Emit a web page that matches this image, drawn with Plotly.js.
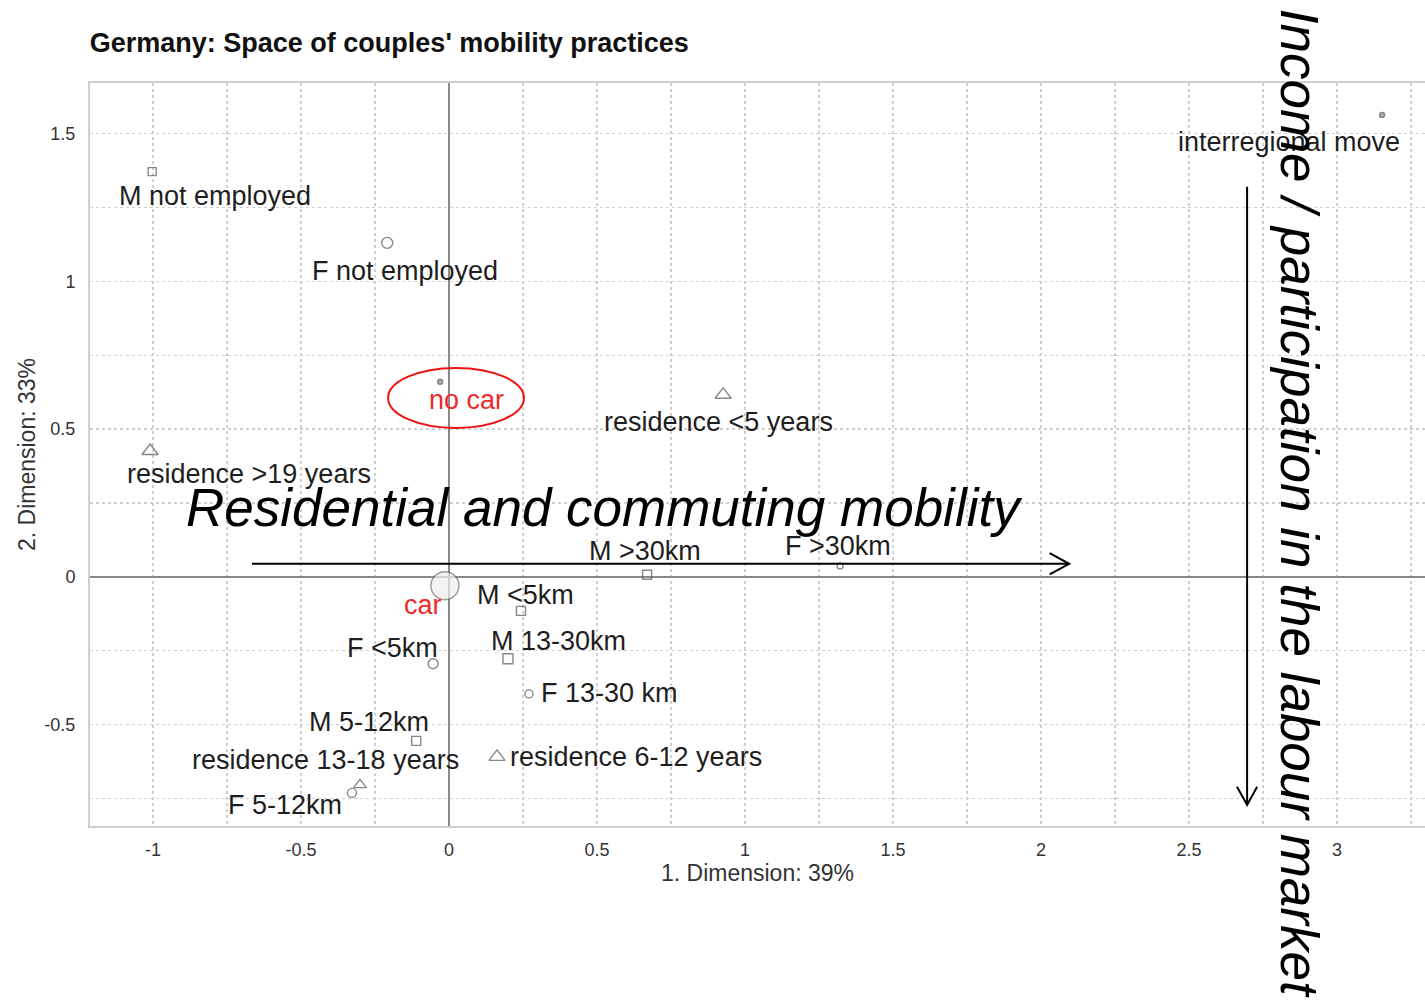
<!DOCTYPE html>
<html>
<head>
<meta charset="utf-8">
<script src="https://cdn.plot.ly/plotly-3.0.1.min.js"></script>
<style>
  html, body { margin: 0; padding: 0; background: #ffffff; }
  #chart { width: 1425px; height: 1004px; }
</style>
</head>
<body>
<div id="chart"></div>
<script>
// Category coordinates on the first two dimensions
const categories = [
  'interregional move', 'M not employed', 'F not employed', 'no car',
  'residence <5 years', 'residence >19 years', 'M >30km', 'F >30km', 'car',
  'M <5km', 'M 13-30km', 'F <5km', 'F 13-30 km', 'M 5-12km',
  'residence 6-12 years', 'residence 13-18 years', 'F 5-12km'
];
const dim1 = [3.152, -1.003, -0.209, -0.030, 0.926, -1.010, 0.669, 1.321, -0.014,
              0.243, 0.199, -0.054, 0.270, -0.111, 0.162, -0.301, -0.328];
const dim2 = [1.563, 1.371, 1.130, 0.660, 0.616, 0.426, 0.007, 0.037, -0.030,
              -0.115, -0.277, -0.294, -0.396, -0.555, -0.609, -0.704, -0.731];

// Axis ticks
const xTickVals = [-1, -0.5, 0, 0.5, 1, 1.5, 2, 2.5, 3];
const xTickText = ['-1', '-0.5', '0', '0.5', '1', '1.5', '2', '2.5', '3'];
const yTickVals = [-0.5, 0, 0.5, 1, 1.5];
const yTickText = ['-0.5', '0', '0.5', '1', '1.5'];

// Marker styling per category
const symbols = ['circle', 'square-open', 'circle-open', 'circle',
  'triangle-up-open', 'triangle-up-open', 'square-open', 'circle-open', 'circle',
  'square-open', 'square-open', 'circle-open', 'circle-open', 'square-open',
  'triangle-up-open', 'triangle-up-open', 'circle-open'];
const sizes = [5, 8, 11, 5, 14, 14, 9, 6, 28, 9, 10, 10, 8, 9, 14, 11, 9];
const fills = categories.map(c => c === 'car' ? '#eeeeee' : (c === 'no car' || c === 'interregional move') ? '#8a8a8a' : '#555555');
const outlines = categories.map(c => c === 'car' ? '#6f6f6f' : '#555555');

// Label placement relative to each marker (pixels, right / up)
const labelDx = [-93, 63, 18, 26, -5, 99, -2, -2, -22, 5, 51, -41, 81, -47, 139, -34, -67];
const labelDy = [-27, -24, -28, -18, -27, -23, 24, 20, -19, 16, 18, 16, 1, 19, 0, 25, -12];
const highlighted = ['no car', 'car'];

const labelFont = 'Liberation Sans, Arial, sans-serif';

const trace = {
  type: 'scatter',
  mode: 'markers',
  x: dim1,
  y: dim2,
  text: categories,
  hoverinfo: 'text',
  cliponaxis: false,
  marker: {
    symbol: symbols,
    size: sizes,
    color: fills,
    line: { color: outlines, width: 1.4 }
  }
};

const labelAnnotations = categories.map((c, i) => ({
  x: dim1[i], y: dim2[i], xref: 'x', yref: 'y',
  text: c, showarrow: false,
  xshift: labelDx[i], yshift: labelDy[i],
  xanchor: 'center', yanchor: 'middle',
  font: { family: labelFont, size: 27, color: highlighted.includes(c) ? '#ee2a2a' : '#1e1e1e' }
}));

// Interpretation of the two axes
const axisNotes = [
  {
    x: 0.524, y: 0.236, xref: 'x', yref: 'y', showarrow: false,
    text: '<i>Residential and commuting mobility</i>',
    xanchor: 'center', yanchor: 'middle',
    font: { family: labelFont, size: 53, color: '#000000' }
  },
  {
    x: 2.872, y: 0.250, xref: 'x', yref: 'y', showarrow: false,
    text: '<i>Income / participation in the labour market</i>',
    textangle: 90, xanchor: 'center', yanchor: 'middle',
    font: { family: labelFont, size: 53, color: '#000000' }
  }
];

// Arrow geometry in axis units
const hArrow = { x0: -0.666, x1: 2.095, y: 0.044, headDx: 0.066, headDy: 0.036 };
const vArrow = { x: 2.696, y0: 1.320, y1: -0.772, headDx: 0.034, headDy: 0.062 };

const shapes = [
  { type: 'line', xref: 'x', yref: 'y', x0: hArrow.x0, x1: hArrow.x1, y0: hArrow.y, y1: hArrow.y,
    line: { color: '#000000', width: 2 } },
  { type: 'path', xref: 'x', yref: 'y',
    path: `M ${hArrow.x1 - hArrow.headDx} ${hArrow.y + hArrow.headDy} L ${hArrow.x1} ${hArrow.y} L ${hArrow.x1 - hArrow.headDx} ${hArrow.y - hArrow.headDy}`,
    line: { color: '#000000', width: 2 } },
  { type: 'line', xref: 'x', yref: 'y', x0: vArrow.x, x1: vArrow.x, y0: vArrow.y0, y1: vArrow.y1,
    line: { color: '#000000', width: 2 } },
  { type: 'path', xref: 'x', yref: 'y',
    path: `M ${vArrow.x - vArrow.headDx} ${vArrow.y1 + vArrow.headDy} L ${vArrow.x} ${vArrow.y1} L ${vArrow.x + vArrow.headDx} ${vArrow.y1 + vArrow.headDy}`,
    line: { color: '#000000', width: 2 } },
  // highlight ring around "no car"
  { type: 'circle', xref: 'x', yref: 'y', x0: -0.206, x1: 0.253, y0: 0.504, y1: 0.707,
    line: { color: '#ee1111', width: 2 } }
];

const axisCommon = {
  showgrid: true,
  gridcolor: '#d0d0d0',
  griddash: 'dot',
  gridwidth: 1.2,
  zeroline: true,
  zerolinecolor: '#8a8a8a',
  zerolinewidth: 2,
  showline: true,
  linecolor: '#cfcfcf',
  linewidth: 2,
  mirror: true,
  ticks: '',
  tickmode: 'array',
  tickfont: { family: labelFont, size: 18, color: '#333333' },
  minor: { dtick: 0.25, showgrid: true, gridcolor: '#d0d0d0', griddash: 'dot', gridwidth: 1.2 }
};

const layout = {
  width: 1425,
  height: 1004,
  margin: { l: 90, r: 0, t: 83, b: 178 },
  paper_bgcolor: '#ffffff',
  plot_bgcolor: '#ffffff',
  showlegend: false,
  title: {
    text: "Germany: Space of couples' mobility practices",
    xref: 'container', yref: 'container',
    x: 0.063, xanchor: 'left', y: 0.958, yanchor: 'middle',
    font: { family: labelFont, size: 27, color: '#111111', weight: 'bold' }
  },
  xaxis: Object.assign({}, axisCommon, {
    range: [-1.213, 3.297],
    tickvals: xTickVals, ticktext: xTickText,
    ticklabelstandoff: 6,
    title: { text: '1. Dimension: 39%', standoff: 4, font: { family: labelFont, size: 23, color: '#333333' } }
  }),
  yaxis: Object.assign({}, axisCommon, {
    range: [-0.843, 1.671],
    tickvals: yTickVals, ticktext: yTickText,
    ticklabelstandoff: 9,
    title: { text: '2. Dimension: 33%', standoff: 2, font: { family: labelFont, size: 23, color: '#333333' } }
  }),
  annotations: labelAnnotations.concat(axisNotes),
  shapes: shapes
};

Plotly.newPlot('chart', [trace], layout, { displayModeBar: false, staticPlot: true });
</script>
</body>
</html>
